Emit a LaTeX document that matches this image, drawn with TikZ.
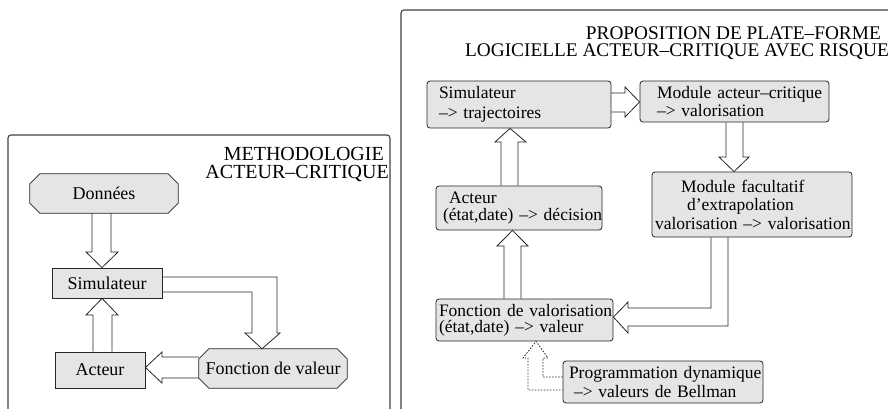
\documentclass[tikz,border=0pt]{standalone}
\usepackage{fontspec}
\setmainfont{Liberation Serif}
\usetikzlibrary{backgrounds}

\tikzset{
  cadre/.style={draw=black!75, line width=1.1pt, rounded corners=3pt},
  boite/.style={draw=black!85, line width=0.8pt, fill=gray!20, inner xsep=3pt, inner ysep=0pt, align=left},
  boiteR/.style={boite, rounded corners=3pt},
  octo/.style={inner sep=0pt},
  octotrait/.style={draw=black!85, line width=0.8pt, fill=gray!20, line join=miter},
  fleche/.style={draw=black!85, line width=0.8pt, line join=miter},
  titre/.style={align=right, inner sep=0pt},
  interligne/.style={font=\fontsize{17.5}{#1}\selectfont},
}

% octogone autour d'un noeud
\newcommand\octogone[1]{%
  \begin{scope}[on background layer]
    \draw[octotrait] ([xshift=10pt]#1.north west) -- ([xshift=-10pt]#1.north east)
      -- ([yshift=-10pt]#1.north east) -- ([yshift=10pt]#1.south east)
      -- ([xshift=-10pt]#1.south east) -- ([xshift=10pt]#1.south west)
      -- ([yshift=10pt]#1.south west) -- ([yshift=-10pt]#1.north west) -- cycle;
  \end{scope}}

\begin{document}
\begin{tikzpicture}[x=1pt, y=-1pt, font=\fontsize{18}{18}\selectfont]
\useasboundingbox (0,0) rectangle (888,408);
\clip (0,0) rectangle (888,408);

% cadres
\draw[cadre] (8,420) -- (8,135) -- (390,135) -- (390,420);
\draw[cadre] (401,420) -- (401,10) -- (900,10);

% titres
\node[titre, anchor=north east, font=\fontsize{20}{18}\selectfont] (titreG) at (389,147.5)
  {METHODOLOGIE\hspace*{5pt}\\ACTEUR–CRITIQUE};
\node[titre, anchor=north east, font=\fontsize{19.3}{17}\selectfont] (titreD) at (889,26.3)
  {PROPOSITION DE PLATE–FORME\hspace*{8pt}\\LOGICIELLE ACTEUR–CRITIQUE AVEC RISQUE};

% methodologie
\node[octo, minimum width=148pt, minimum height=39pt] (donnees) at (104,193.5) {Données};
\octogone{donnees}
\node[boite, minimum width=110pt, minimum height=30pt] (simL) at (107,283) {Simulateur};
\node[boite, minimum width=90pt, minimum height=36pt] (acteurL) at (100,370) {Acteur};
\node[octo, minimum width=148pt, minimum height=39pt] (valeurL) at (273,368.5) {Fonction de valeur};
\octogone{valeurL}

\draw[fleche] (92,0 |- donnees.south) -- (92,252) -- (86,252) -- (102,0 |- simL.north)
  -- (118,252) -- (111,252) -- (111,0 |- donnees.south);
\draw[fleche] (93,0 |- acteurL.north) -- (93,315) -- (86,315) -- (102,0 |- simL.south)
  -- (118,315) -- (112,315) -- (112,0 |- acteurL.north);
\draw[fleche] (simL.east |- 0,277) -- (277,277) -- (277,333) -- (280,333) -- (262,0 |- valeurL.north)
  -- (245,333) -- (252,333) -- (252,292) -- (simL.east |- 0,292);
\draw[fleche] (valeurL.west |- 0,357) -- (162,357) -- (162,352) -- (acteurL.east |- 0,367.5)
  -- (162,383) -- (162,378) -- (valeurL.west |- 0,378);

% plate-forme
\node[boiteR, interligne=20, text width=178pt, minimum height=47pt] (simR) at (519,104.5)
  {\hspace*{9pt}\mbox{Simulateur}\\\hspace*{9pt}\mbox{–> trajectoires}};
\node[boiteR, interligne=18, text width=183pt, minimum height=41pt] (critique) at (734.5,101.5)
  {\hspace*{14pt}\mbox{Module acteur–critique}\\\hspace*{14pt}\mbox{–> valorisation}};
\node[boiteR, interligne=18.5, text width=194pt, minimum height=65pt] (extrapol) at (752,204.5)
  {\hspace*{26pt}\mbox{Module facultatif}\\\hspace*{32pt}\mbox{d’extrapolation}\\\mbox{valorisation –> valorisation}};
\node[boiteR, interligne=17, text width=160pt, minimum height=44pt] (acteurR) at (519,208)
  {\hspace*{10pt}\mbox{Acteur}\\\hspace*{4pt}\mbox{(état,date) –> décision}};
\node[boiteR, interligne=16, text width=171pt, minimum height=42pt] (valorisR) at (524.5,320)
  {\mbox{Fonction de valorisation}\\\mbox{(état,date) –> valeur}};
\node[boiteR, interligne=19, text width=194pt, minimum height=42pt] (bellman) at (663,382)
  {\hspace*{3pt}\mbox{Programmation dynamique}\\\hspace*{8pt}\mbox{–> valeurs de Bellman}};

\draw[fleche] (simR.east |- 0,93) -- (625,93) -- (625,87) -- (critique.west |- 0,102)
  -- (625,117) -- (625,112) -- (simR.east |- 0,112);
\draw[fleche] (726,0 |- critique.south) -- (726,157) -- (719,157) -- (734,0 |- extrapol.north)
  -- (749,157) -- (743,157) -- (743,0 |- critique.south);
\draw[fleche] (711,0 |- extrapol.south) -- (711,308) -- (628,308) -- (628,302) -- (valorisR.east |- 0,317)
  -- (628,333) -- (628,326) -- (728,326) -- (728,0 |- extrapol.south);
\draw[fleche] (504,0 |- valorisR.north) -- (504,246) -- (497,246) -- (512.5,0 |- acteurR.south)
  -- (528,246) -- (521,246) -- (521,0 |- valorisR.north);
\draw[fleche] (501,0 |- acteurR.north) -- (501,142) -- (495,142) -- (510,0 |- simR.south)
  -- (526,142) -- (518,142) -- (518,0 |- acteurR.north);
\draw[fleche, dash pattern=on 1.5pt off 1.5pt] (bellman.west |- 0,377) -- (543,377) -- (543,358)
  -- (548,358) -- (536,0 |- valorisR.south) -- (523,358) -- (528,358) -- (528,390) -- (bellman.west |- 0,390);
\end{tikzpicture}
\end{document}
